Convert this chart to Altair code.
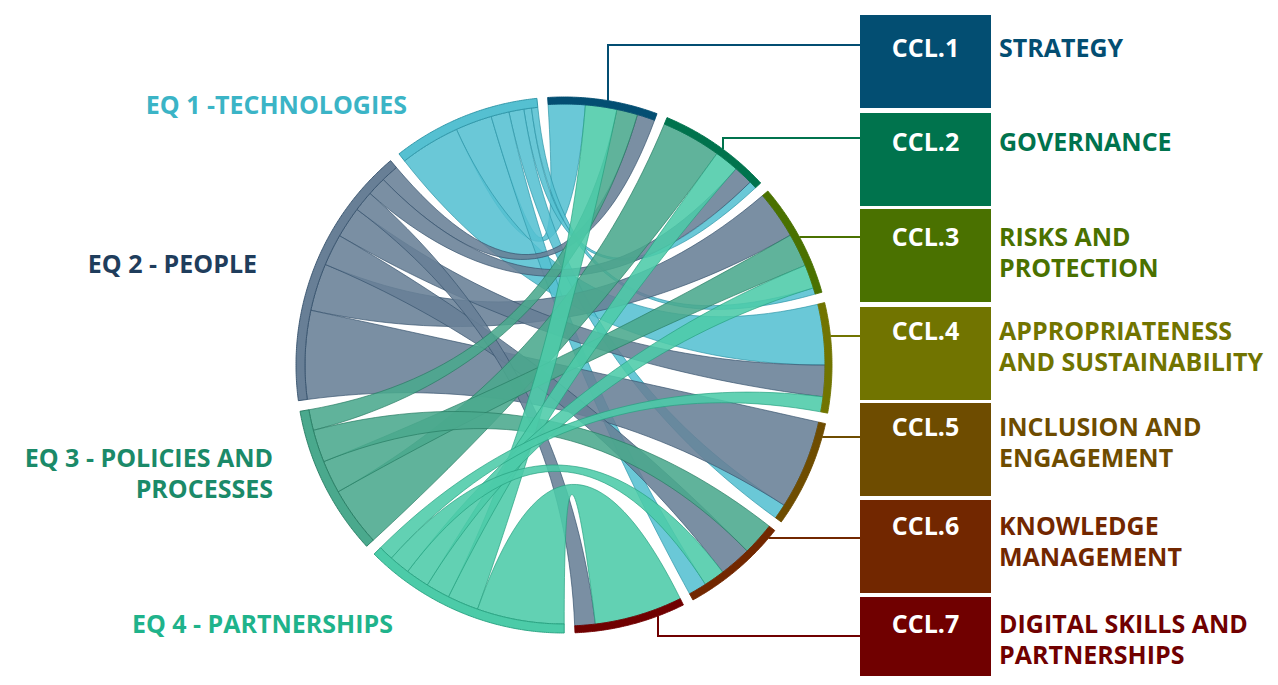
import math
import altair as alt
import pandas as pd

# ---------------- data ----------------
EQ_NAMES = ["EQ 1", "EQ 2", "EQ 3", "EQ 4"]
EQ_LABEL_LINES = [["EQ 1 -TECHNOLOGIES"], ["EQ 2 - PEOPLE"],
                  ["EQ 3 - POLICIES AND", "PROCESSES"], ["EQ 4 - PARTNERSHIPS"]]
CCL_CODES = ["CCL.1", "CCL.2", "CCL.3", "CCL.4", "CCL.5", "CCL.6", "CCL.7"]
CCL_LABEL_LINES = [["STRATEGY"], ["GOVERNANCE"], ["RISKS AND", "PROTECTION"],
                   ["APPROPRIATENESS", "AND SUSTAINABILITY"],
                   ["INCLUSION AND", "ENGAGEMENT"], ["KNOWLEDGE", "MANAGEMENT"],
                   ["DIGITAL SKILLS AND", "PARTNERSHIPS"]]
# link weights from each EQ to CCL.1 ... CCL.7
EQ1_FLOWS = [8.1, 1.7, 1.4, 13.3, 3.3, 4.0, 0.0]
EQ2_FLOWS = [3.9, 4.2, 10.5, 6.9, 19.6, 7.0, 4.5]
EQ3_FLOWS = [4.6, 13.1, 7.3, 0.0, 0.0, 7.2, 0.0]
EQ4_FLOWS = [6.9, 5.3, 5.2, 3.3, 0.0, 4.6, 19.3]

# ---------------- styles ----------------
EQ_FILL = ["#55c0d1", "#687f96", "#4aa98d", "#4ccba8"]
EQ_LINE = ["#2b93a5", "#34506b", "#257a61", "#26a07f"]
EQ_TEXT = ["#3bb4c6", "#1f3d5c", "#1b8a69", "#1fb38b"]
CCL_COLORS = ["#034e72", "#00734d", "#4a7100", "#717400", "#6e4c00", "#722700", "#700000"]

W, H = 1262, 668
OX, OY = 8, 8
CX, CY, R = 564.0, 365.0, 268.0
R_EQ_IN = 259.0
R_CCL_IN = 261.0
GAP = 2.3
START = -3.5
FONT = "Open Sans"
FS = 25

flows = [EQ1_FLOWS, EQ2_FLOWS, EQ3_FLOWS, EQ4_FLOWS]
total = sum(sum(f) for f in flows)
kscale = (360.0 - 11 * GAP) / (2 * total)


def pt(theta, r):
    t = math.radians(theta)
    return (CX + r * math.sin(t), CY - r * math.cos(t))


def arc_pts(t0, t1, r):
    n = max(2, int(abs(t1 - t0) / 0.4) + 2)
    return [pt(t0 + (t1 - t0) * s / (n - 1), r) for s in range(n)]


def bez(p0, p2, n=40):
    out = []
    for s in range(n + 1):
        t = s / n
        out.append(((1 - t) ** 2 * p0[0] + 2 * (1 - t) * t * CX + t * t * p2[0],
                    (1 - t) ** 2 * p0[1] + 2 * (1 - t) * t * CY + t * t * p2[1]))
    return out


# sector layout (clockwise from top): CCL.1..CCL.7, then EQ4, EQ3, EQ2, EQ1
sectors = [("C", j) for j in range(7)] + [("E", i) for i in (3, 2, 1, 0)]
slots = {}
spans = {}
ang = START
for kind, idx in sectors:
    if kind == "C":
        items = [(flows[i][idx], i) for i in range(4) if flows[i][idx] > 0]
    else:
        items = [(flows[idx][j], j) for j in range(7) if flows[idx][j] > 0]
    items.sort(key=lambda t: -t[0])
    s0 = ang
    for v, other in items:
        a0, a1 = ang, ang + v * kscale
        key = (other, idx) if kind == "C" else (idx, other)
        slots.setdefault(key, {})[kind] = (a0, a1)
        ang = a1
    spans[(kind, idx)] = (s0, ang)
    ang += GAP

# ribbons
rib_rows = []
rid = 0
for i in range(4):
    for j in range(7):
        if flows[i][j] <= 0:
            continue
        a0, a1 = slots[(i, j)]["E"]
        b0, b1 = slots[(i, j)]["C"]
        pts = arc_pts(a0, a1, R_EQ_IN)
        pts += bez(pt(a1, R_EQ_IN), pt(b0, R_CCL_IN))[1:-1]
        pts += arc_pts(b0, b1, R_CCL_IN)
        pts += bez(pt(b1, R_CCL_IN), pt(a0, R_EQ_IN))[1:]
        for k, (x, y) in enumerate(pts):
            rib_rows.append({"rid": f"r{rid:02d}", "eq": EQ_NAMES[i], "k": k, "x": x, "y": y})
        rid += 1
rib_df = pd.DataFrame(rib_rows)

# bands
band_rows = []
for (kind, idx), (s0, s1) in spans.items():
    rin = R_EQ_IN if kind == "E" else R_CCL_IN
    pts = arc_pts(s0, s1, R) + arc_pts(s1, s0, rin)
    pts.append(pts[0])
    if kind == "E":
        fill, line = EQ_FILL[idx], EQ_LINE[idx]
    else:
        fill, line = CCL_COLORS[idx], CCL_COLORS[idx]
    name = f"{kind}{idx}"
    for k, (x, y) in enumerate(pts):
        band_rows.append({"bid": name, "k": k, "x": x, "y": y, "fill": fill, "line": line})
band_df = pd.DataFrame(band_rows)

# legend boxes on the right
BOX_X0, BOX_X1 = 860, 991
BOX_TOPS = [15, 113, 209, 307, 403, 500, 597]
BOX_H = 93
LABEL_Y = [48.5, 143, 237.5, 332, 428, 527, 625]
LINE_GAP = 31
CONN_Y = [45, 138, 237, 336, 437, 538, 636]
CONN_ATTACH_X = {0: 608, 1: 723, 6: 658}

box_df = pd.DataFrame({
    "x": [BOX_X0] * 7, "x2": [BOX_X1] * 7,
    "y": BOX_TOPS, "y2": [t + BOX_H for t in BOX_TOPS],
    "col": CCL_COLORS, "code": CCL_CODES, "ly": LABEL_Y,
    "cx": [(BOX_X0 + BOX_X1) / 2] * 7,
})

conn_rows = []
for j in range(7):
    yl = CONN_Y[j]
    if j in CONN_ATTACH_X:
        xa = CONN_ATTACH_X[j]
        dy = math.sqrt(R * R - (xa - CX) ** 2)
        ya = CY - dy if yl < CY else CY + dy
        pts = [(xa, ya), (xa, yl), (BOX_X0, yl)]
    else:
        xa = CX + math.sqrt(R * R - (yl - CY) ** 2)
        pts = [(xa, yl), (BOX_X0, yl)]
    for k, (x, y) in enumerate(pts):
        conn_rows.append({"cid": f"c{j}", "k": k, "x": x, "y": y, "col": CCL_COLORS[j]})
conn_df = pd.DataFrame(conn_rows)

lab_rows = []
for j, lines in enumerate(CCL_LABEL_LINES):
    for n, t in enumerate(lines):
        lab_rows.append({"t": t, "x": 999, "y": LABEL_Y[j] + n * LINE_GAP, "col": CCL_COLORS[j]})
lab_df = pd.DataFrame(lab_rows)

EQ_LABEL_X = [407, 257, 273, 393]
EQ_LABEL_Y = [106, 265, 459, 625]
eq_rows = []
for i, lines in enumerate(EQ_LABEL_LINES):
    for n, t in enumerate(lines):
        eq_rows.append({"t": t, "x": EQ_LABEL_X[i], "y": EQ_LABEL_Y[i] + n * LINE_GAP, "col": EQ_TEXT[i]})
eq_df = pd.DataFrame(eq_rows)

# ---------------- chart ----------------
xs = alt.Scale(domain=[OX, OX + W], nice=False, zero=False)
ys = alt.Scale(domain=[OY, OY + H], nice=False, zero=False, reverse=True)
X = alt.X("x:Q", scale=xs, axis=None)
Y = alt.Y("y:Q", scale=ys, axis=None)

ribbons = alt.Chart(rib_df).mark_line(
    filled=True, fillOpacity=0.88, strokeWidth=0.9, strokeOpacity=0.75
).encode(
    x=X, y=Y, order="k:Q", detail="rid:N",
    fill=alt.Fill("eq:N", scale=alt.Scale(domain=EQ_NAMES, range=EQ_FILL), legend=None),
    stroke=alt.Stroke("eq:N", scale=alt.Scale(domain=EQ_NAMES, range=EQ_LINE), legend=None),
)

bands = alt.Chart(band_df).mark_line(filled=True, strokeWidth=0.9).encode(
    x=X, y=Y, order="k:Q", detail="bid:N",
    fill=alt.Fill("fill:N", scale=None),
    stroke=alt.Stroke("line:N", scale=None),
)

conns = alt.Chart(conn_df).mark_line(strokeWidth=2).encode(
    x=X, y=Y, order="k:Q", detail="cid:N",
    stroke=alt.Stroke("col:N", scale=None),
)

boxes = alt.Chart(box_df).mark_rect().encode(
    x=X, x2="x2:Q", y=Y, y2="y2:Q",
    fill=alt.Fill("col:N", scale=None),
)

box_text = alt.Chart(box_df).mark_text(
    font=FONT, fontWeight="bold", fontSize=FS, color="white", align="center", baseline="middle"
).encode(x=alt.X("cx:Q", scale=xs, axis=None), y=alt.Y("ly:Q", scale=ys, axis=None), text="code:N")

ccl_text = alt.Chart(lab_df).mark_text(
    font=FONT, fontWeight="bold", fontSize=FS, align="left", baseline="middle"
).encode(x=X, y=Y, text="t:N", color=alt.Color("col:N", scale=None))

eq_text = alt.Chart(eq_df).mark_text(
    font=FONT, fontWeight="bold", fontSize=FS, align="right", baseline="middle"
).encode(x=X, y=Y, text="t:N", color=alt.Color("col:N", scale=None))

chart = alt.layer(ribbons, bands, conns, boxes, box_text, ccl_text, eq_text).properties(
    width=W, height=H, autosize=alt.AutoSizeParams(type="none"), padding=0,
    background="white",
).configure_view(stroke=None)

chart.save("out.html", embed_options={"renderer": "svg", "actions": False})
